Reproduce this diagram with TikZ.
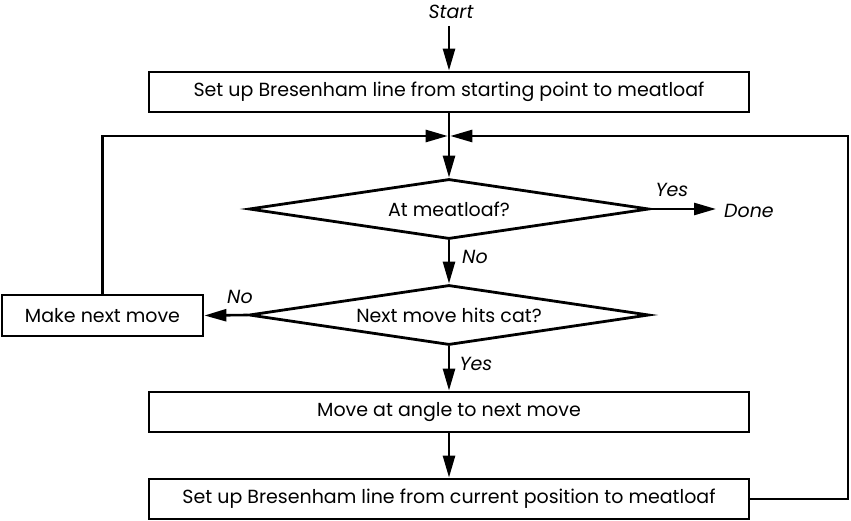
\documentclass[tikz,border=0pt]{standalone}
\usepackage{fontspec}
\setmainfont{Poppins}
\usetikzlibrary{arrows.meta,shapes.geometric}
\tikzset{
  txt/.style={font=\fontsize{19}{22}\selectfont},
  box/.style={draw, line width=2.8pt, rectangle, minimum width=600pt, minimum height=40pt, inner sep=0pt, txt},
  smallbox/.style={draw, line width=2.8pt, rectangle, minimum width=201pt, minimum height=41pt, inner sep=0pt, txt},
  dec/.style={draw, line width=2.8pt, diamond, aspect=6.6, minimum width=400pt, minimum height=60pt, inner sep=0pt, txt},
  lbl/.style={font=\fontsize{19}{22}\selectfont\itshape, inner sep=0pt},
  conn/.style={line width=2.6pt, -{Triangle[length=22pt,width=12pt]}},
}
\begin{document}
\begin{tikzpicture}[x=1pt,y=-1pt]
\useasboundingbox (0,0) rectangle (851,521);
\node[lbl] (start) at (451,12) {Start};
\node[box] (b1) at (449,92) {Set up Bresenham line from starting point to meatloaf};
\coordinate (m) at (449,136);
\node[dec] (d1) at (449,209) {At meatloaf?};
\node[lbl, anchor=west] (done) at (724,211) {Done};
\coordinate (dn) at (716,209);
\node[lbl] (yes1) at (672,190) {Yes};
\node[lbl] (no1) at (475,257) {No};
\node[dec] (d2) at (449,315) {Next move hits cat?};
\node[smallbox] (mnm) at (102.5,315.5) {Make next move};
\node[lbl] (no2) at (240,297) {No};
\node[lbl] (yes2) at (476,364) {Yes};
\node[box] (b3) at (449,412) {Move at angle to next move};
\node[box] (b4) at (449,499) {Set up Bresenham line from current position to meatloaf};
\coordinate (rc) at (848,499);
\coordinate (rt) at (848,136);
\coordinate (lt) at (mnm.north |- m);
\coordinate (st) at (449,26);

\draw[conn] (st) -- (b1.north);
\draw[conn] (b1.south) -- (d1.north);
\draw[conn, shorten >=1.3pt] (mnm.north) -- (lt) -- (m);
\draw[conn, shorten >=1.3pt] (b4.east) -- (rc) -- (rt) -- (m);
\draw[conn] (d1.east) -- (dn);
\draw[conn] (d1.south) -- (d2.north);
\draw[conn] (d2.west) -- (mnm.east);
\draw[conn] (d2.south) -- (b3.north);
\draw[conn] (b3.south) -- (b4.north);
\end{tikzpicture}
\end{document}
